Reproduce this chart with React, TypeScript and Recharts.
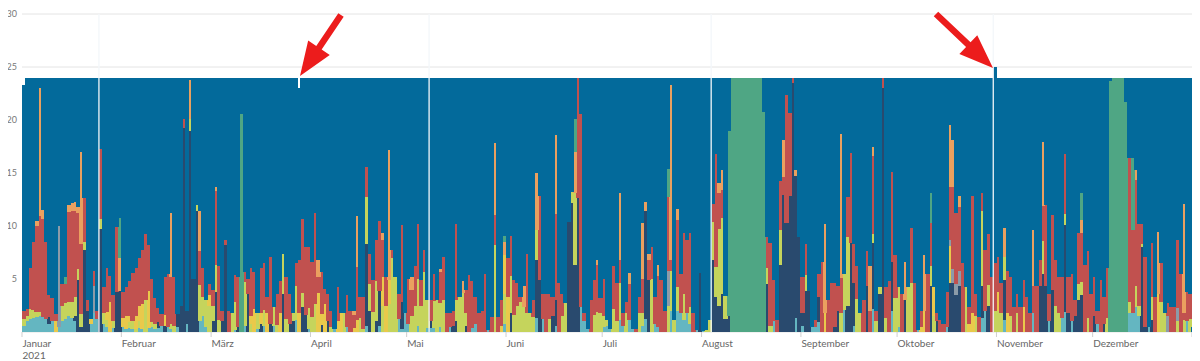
import React from 'react';
import { BarChart, Bar, XAxis, YAxis, CartesianGrid, ReferenceLine } from 'recharts';

// Stunden pro Tag je Kategorie, Reihenfolge der Stapel (unten -> oben):
// [teal, navy, lime, yellow, gray, red, orange, green] ; Rest bis zur Tageslänge = blau
const seriesKeys = ['teal', 'navy', 'lime', 'yellow', 'gray', 'red', 'orange', 'green'];
const seriesColors = ['#64b6c1', '#294a6e', '#c5d45c', '#e9c94b', '#8c9ba8', '#c1514f', '#eaa05f', '#4fa684'];
const restColor = '#036a9b';

const jan = [
  [0.6,0,0.6,0,0,0.8,0,0],[1,0,0.5,0,0,0.7,0,0],[1.2,0,1,0,0,3.8,0,0],[1.3,0,0.8,0,0,6.4,0,0],
  [1.4,0,0.5,0,0,8.1,0.5,0],[1.5,0,0.4,0,0,9,12.1,0],[1.4,0,0,0,0,9.3,0.8,0],[1.2,0,0,0,0,7.3,0,0],
  [0.8,0.6,0,0,0,2.1,0,0],[1,0,0,0,0,2.2,0,0],[0,0,0,1,0,0.7,0,0],[0.5,0,0,0,9.5,0,0,0],
  [1,0,1.5,0,0,2,0,0],[1.2,0,1.5,0,0,1.8,0,0.7],[1.5,0,1.3,0,0,8.5,0.7,0],[1.3,0,1.5,0,0,8.6,0.8,0],
  [1,0.5,1.8,0,0,8.1,0.9,0],[0,4.9,1,0,0,5.3,0.6,0],[0,0.5,1.2,0,0,6.6,8.7,0],[0,7.7,0.8,0,0,4.1,0,0],
  [0,2,0,0,0,1,0,0],[0.8,0,0,0.4,0,0,0,0],[1.8,0,0,0,2.5,1.5,0,0],[1.2,0,0,0,0,0.8,0,0],
  [0,9.7,1,0,0,6.6,0,0],[0.8,0,1,0,0,2.4,0,0],[0.5,0,0.6,0.8,0,4.1,0,0],[0,0,0,2.8,0,2.5,0,0],
  [0.4,0,0.6,0,0,2.5,0,0],[0,3.8,0,0,0,6.1,0,0],[0,3.9,0,0,0,0,3.1,3.8],
];
const feb = [
  [0.5,0,0,0.8,0,2.5,0,0],[0.3,0,0,1.2,0,2.7,0,0],[0.4,0,0.5,0.6,0,3.3,0,0],[0.3,0,0.7,0,0,4.6,0,0],
  [0,0,0.3,1.2,0,4.5,0,0],[0.4,0,0.6,1.5,0,4.5,0,0],[0.3,0,0,2.3,0,5.1,0,0],[0,0,3,0,0,6.2,0,0],
  [0.4,0,0,3.5,0,4.3,0,0],[0.5,0,0.4,0,0,4.1,0,0],[0.3,0,0.5,0,0,2.4,0,0],[0.4,0.5,0,0,0,1.4,0,0],
  [0.6,0,0,0,0,1.1,0,0],[0,0.6,0,1,0,3.6,0,0],[0.5,0,0,0,0,5,0,0],[0.3,0,0.5,0,0,4.4,6,0],
  [0,0,0.6,0,0,4.6,0,0],[0.5,1.2,0,0,0,0,0,0],[0,2.5,0,0,0,0,0,0],[0,19.2,0,0,0,0.9,0,0],
  [0.8,1.2,0,0,0,0,0,0],[0,19,1.1,0,0,0,3.7,0],[0,5,0,0,0,0,0,0],[0,11.4,0.6,0,0,0,0,0],
  [1,0,3.4,0,0,3.2,3.8,0],[1.5,0,1.8,0,0,2.7,0,0],[0.5,0,2.5,0,0,0,0,0],[0,0,2.5,1,0,1,0,0],
];
const mar = [
  [0,1,1.5,0,0,1.5,0,0],[0,3.8,2.5,0,0,7,0.4,0],[0,0,1.1,0,0,5.1,0,0],[0,1,0,0,0,1,0,0],
  [0,8.2,0,0,0,0.5,0,0],[0,0,0,0,0,2,0,0],[0,0,1.8,0,0,0,0,0],[0.2,0,2.6,0,0,2.6,0,0],
  [0,0.5,0,0,0,4.7,0,0],[0,0,0,0,0,0,0,20.6],[0.6,0,4.1,0,0,1,0,0],[0,3.6,0,0,0,1.4,0,0],
  [0,0,0.8,0.7,0,4.5,0,0],[0,0,0,2.2,0,3.5,0,0],[0.3,0,1.5,0,0,0,0,0],[0,0.8,0,1,0,4.2,0,0],
  [0.6,0,1.5,0,0,4.4,0,0],[0,0,0,1.8,0,1.5,0,0],[0,0.8,0,0,0,6.3,0,0],[0.6,0,1.8,0,0,0,0,0],
  [0,0,0.7,0,0,2.9,0,0],[0,0,0,1.8,0,3,0,0],[0,3.6,3.8,0,0,0,0,0],[0,0,1.2,0,0,4,0,0],
  [0,0.8,0,0,0,2.8,0,0],[0,1,0.8,0,0,0,0,0],[1.1,0,3.2,0,0,2.2,0,0],[0,0,0,1.8,0,5,0,0],
  [0,2.4,1.3,0,0,7,0,0],[0,1.6,0,0,0,6.4,0,0],[0.3,0,2,0,0,5.7,0,0],
];
const apr = [
  [0,0,1.4,0,0,5.2,0,0],[0,0,2.6,0,0,8.6,0,0],[0,0,0,3.7,0,1.5,1.6,0],[0,0.7,0,1,0,4,0,0],
  [0,0,0,2.6,0,1.5,0,0],[0,1,0,0,0,2.6,0,0],[0,0,0.5,0,0,1.5,0,0],[0.3,0,0,0,0,0,0,0],
  [0,0,0,1,0,3.2,0,0],[0,0,0,1.8,0,0,0,0],[0,0,1.8,0,0,0,0,0],[0.5,0,0,0,0,3,0,0],
  [0,0,0,0,0,2,0,0],[0,0,0,0.4,0,1.2,0.4,0],[0,0,0,1.1,0,5,4.8,0],[0,0,1.3,0,0,2,0,0],
  [0,0,0.3,0,0,3,0,0],[0.6,7.7,4.4,0,0,2.9,0,0],[0,2,2.5,0,0,2.9,0,0],[0,0,1.9,0,0,3,0,0],
  [0,1,3.8,0,0,3.9,0,0],[0.6,3.3,0,0,0,6.6,0,0],[0,0,2.5,2.7,0,3.5,0.6,0],[0,0,0,2.5,0,2.7,0,0],
  [0,0,2.6,2.3,0,0,12.3,0],[0,0,7,0,0,0.7,0,0],[0,0,5.2,0,0,0,0,0],[1.2,0,0,0,0,2.4,0,0],
  [0.3,2.5,0,0,0,7.3,0,0],[1.8,0,0,0,0,0,0,0],
];
const may = [
  [0.8,0,0,0,0,4.2,0,0],[0,0,1.5,0,0,2.5,1.2,0],[0,0,2.5,0,0,3.7,0,0],[0.6,0,4.4,0,0,5.2,0,0],
  [0,0,2.5,0,0,2.4,0,0],[0,0,5.7,0,0,2,0,0],[0.4,0,2.6,0,0,0,0,0],[0.4,0.6,0,0,0,2,0,0],
  [0.4,0,2.5,0,0,2.6,0,0],[0,0,3,0,0,0,0,0],[0.5,0,2.2,0,0,3,0.2,0],[0,0,3,0,0,4.1,0,0],
  [0,0,0,0,0,1.8,0,0],[0.5,0,0,0,0,1.3,0,0],[0,0.6,0,0,0,1.4,0,0],[0,1,2,0,0,7.2,0,0],
  [0,0,3.3,0,0,0,0,0],[0,0,3.7,0,0,0,1.1,0],[0,0.6,1.2,0,0,2.2,0,0],[0,0,0,0,0,5.4,0,0],
  [0.4,0,0,0,0,4.4,0,0],[0.8,0,0,0,0,2.5,0,0],[0,0,0,0,0,1.8,0,0],[0,0,0,0,0,2,0,0],
  [0,0,0,0,0,5.5,0,0],[0.2,0,0,0,0,0,0,0],[0,0,0,0,0,1.4,0,0],[0,0,8.2,0,0,2.8,6.8,0],
  [0,0,0,0,0,1.4,0,0],[0,0,0,0.6,0,2.4,0,0],[0.8,0,2.8,3.7,0,0,1.2,0.6],
];
const jun = [
  [0,0,0,3.3,0,3.7,0,0],[0,1.8,3.5,0,0,3.8,0,0],[0,0,1.6,0,0,3.3,0,0],[0,0,2.5,0,0,2.1,0,0],
  [0,0,2.8,0,0,0.5,0,0],[0,0,2.4,0,0,0,1.9,0],[0,0,1.8,0,0,5.6,0,0],[0,0,1.8,0,0,0,0,0],
  [0,0,1.4,0,0,1.6,0,0],[1.3,5.5,2.8,0,0,0,5.4,0],[0,4.9,0,0,0,7.9,0,0],[1.2,0,0,0,0,2.4,0,0],
  [0,0,0,0,0,3.6,0,0],[0,0,1.2,0,0,2.4,0,0],[0,1.5,0,0,0,1.8,0,0],[0.6,2.4,0,0,0,8.1,7.5,0],
  [0,0,0,0,0,4.6,0,0],[0,0,1.5,0,0,2.1,0,0],[0,0,2.7,0,0,0,0,0],[0,10.4,0,0,0,0,0,0],
  [0,12.2,1,0,0,0,0,0],[0,6.3,6.8,0,0,0,3.9,3.1],[0,12.6,0,0,0,11.4,0,0],[2.4,0,0,0,0,18.2,0,0],
  [1,0,0,0,0,0.8,0,0],[0.3,0,0,0,0,0,0,0],[0,0,0,0,0,3,0,0],[0,0,1.6,0,0,3.3,0,0],
  [0,0,1.9,0,0,4.4,0.5,0],[0,0,1.8,0,0,1.4,0,0],
];
const jul = [
  [0.5,0,1,0,0,3.5,0,0],[0.6,0,0.5,0,0,0,0,0],[0.3,0,0,0,0,0,0,0],[0,0,2.2,0,0,4,0,0],
  [0,0,1,0,0,3.6,0,0],[1.1,0,3.5,0,0,2.2,6.3,0],[0.6,0,0,0,0,1.2,0,0],[0,0,1.8,0,0,1,0,0],
  [1.1,0,0,0,0,3.4,1.1,0],[0.3,0,0,0,0,0,0,0],[0,0,0,0,0,0.3,0,0],[0,0,1.8,0,0,1.5,0,0],
  [0.6,0,1.2,0,0,3.2,5.3,0],[1.2,10.2,0,0,0,0,0.9,0],[0,4.9,0,0,0,1.9,0.6,0],[0,0,5,0,0,3,0,0],
  [0.8,0,0,0,0,2.5,0,0],[0.5,0,0,0,0,4.8,1,0],[0,0,0,0,0,4.9,0,0],[0,0,0,0,0,2,0,0],
  [0,0,2.5,0,3.3,6.9,0,2.7],[2,0,3.8,0,0,1,16.5,0],[0,0,1.1,0,0,0,0,0],[2,0,2.2,0,0,6.4,1,0],
  [1.8,0,0,0,0,3.7,0,0],[1.1,0,2.5,0,0,5.7,0,0],[1.8,0,0,0,0,6.9,0,0],[0.8,0,1.6,0,0,6.9,0,0],
  [0,0,0,0,0,1.8,0,0],[0.2,0,0,0,0,0,0,0],[0,5.6,0,0,0,0,0,0],
];
const aug = [
  [0.1,0,0,0,0,0,0,0],[0,0,0.2,0,0,0,0,0],[0,0,1.1,0,0,0,0,0],[0,6.8,3.6,0,0,1.7,0,0],
  [0,3.3,2.8,0,0,10.7,0,0],[0,2.5,7.2,0,0,3.4,1,0],[0,3.6,7.2,0,0,2.6,1.9,0],[0,1.2,2.2,0,0,0,0,0],
  [0,1.5,0,0,0,0,0,17.5],
  [0,0,0,0,0,0,0,24],[0,0,0,0,0,0,0,24],[0,0,0,0,0,0,0,24],[0,0,0,0,0,0,0,24],[0,0,0,0,0,0,0,24],
  [0,0,0,0,0,0,0,24],[0,0,0,0,0,0,0,24],[0,0,0,0,0,0,0,24],[0,0,0,0,0,0,0,24],[0,0,0,0,0,0,0,24],
  [0,0,0,0,0,0,0,20.8],
  [0,4.5,1.5,0,0,3,0,0],[0,0,0.6,0,0,7.8,0,0],[1,0,0,0,0,3.9,0,0],[0,0,0,0,0,1.1,0,0],
  [0,6.3,3.3,0,0,4.6,0,0],[0,12.9,0,0,0,1.7,3.5,0],[0,10.3,0,0,0,12.1,0,0],[0,12.8,0,0,0,7.9,0,0],
  [0,23.5,0,0,0,0.5,0,0],[1.3,13.4,0,0,0,0,0.6,0],[0,9,0,0,0,0,0,0],
];
const sep = [
  [0.6,1.2,0,0,0,3.4,0,0],[0,3.9,1.5,0,0,2.9,0,0],[0,3.9,0,0,0,0,0,0],[0.5,0,0,0,0,0,0,0],
  [0.5,0,0,0,0,0.6,0,0],[0.9,2.4,0,0,0,2.2,0,0],[0,0,0,0,0,6.6,0,0],[0,0,0,1.8,0,0,8.4,0],
  [0,0,0,0,0,3,0,0],[0,0,0,0,0,4.6,0,0],[0,0.5,0,0,0,4.1,0,0],[0,2,0,0,0,2.3,0,0],
  [0,0,1.8,0,0,3.3,13.6,0],[2.1,0,3.4,0,0,0,0,0],[0,2.5,6.5,0,0,3.7,0,0],[0,8.4,0,0,0,8.5,0,0],
  [0.6,4,0,0,0,3.7,0,0],[0,0,3.1,0,0,3.1,0,0],[0,0,1.8,0,0,0,0,0],[0,0,0,0,0,3,0,0],
  [0,4.3,0,0,0,3.3,0,0],[0,0,0,0,0,2,4.2,0],[2.2,6.2,0.8,0,0,7.4,0.9,0],[0,0,1,0,0,1,0,0],
  [0,3.6,0.6,0,0,0,0,0],[0,23,0,0,0,1,0,0],[0,0,1.3,0,0,2.9,0,0],[0,0,0,0,0,4.8,0,0],
  [2,4.6,0,0,0,8.5,0,0],[0,0,3.2,0,0,4.1,0,0],
];
const oct = [
  [0.5,0,3.7,0,0,0,0,0],[0,0,0,0,0,3.6,0,0],[0,3,0,0,0,0,3.6,0],[0,0,4.2,0,0,0,0,0],
  [0,0,4.6,0,0,5.2,0,0],[0,0,0,0,0,4.6,0,0],[0.2,0,0,0,0,0,0,0],[0,0,0,0.5,0,1.5,0,0],
  [0,0,0,2,0,0,5.3,0],[0,0,0,0,0,5.5,0,0],[0,4.3,1.9,0,0,4.1,0,2.8],[0,0,1.5,2.7,0,0,0,0],
  [0,1,0,0,0,0.8,0,0],[0,0,0,0,0,1.1,0,0],[0,0,0,0,0,0.8,0,0],[0.5,0,0,0,0,3.3,0,0],
  [0,4.6,0,3.5,0.6,5,5.8,0],[0,4.6,0,0,1.3,7.8,4.4,0],[0,3.5,0,0,1,6.7,0,0],[0,4.3,0,0,1.5,6,1,0],
  [0,0,0,0,0,6.5,0,0],[0,0,4.2,0,0,0,0,0],[0,0,0,0.8,0,1.6,0,0],[0,0,0,1.8,0,11,0,0],
  [0,0,1.5,0,0,2.1,0,0],[0,0,0,0,0,1.4,0,0],[1.3,3,7.1,0,0,1.7,0,0],[2,0,0,0,0,5.7,0,0],
  [0,2.5,1.9,0,0,4.8,0,0],[0,0,0,0,0,5.2,0,0],[0,0,2,0,0,4.5,0,0],
];
const nov = [
  [0,0,2,1.8,0,3.3,0,0],[0,0,1.8,0,0,2.8,0,0],[1.1,3.8,2.2,0,0,0,2.7,0],[0,0,0,1.8,0,4,0,0],
  [0,0,1.5,0,0,3.7,0,0],[0,0,0,0,0,2.4,0,0],[0,0,1.8,0,0,1.8,0,0],[0,0,0,0,0,2.4,0,0],
  [0,0,0,2.4,0,2.5,0,0],[0,0,0,0,0,3.3,0,0],[0,0,0,0,0,1.8,0,0],[1.8,0,0,0,0,2.5,5.3,0],
  [0,0,0,0,0,4.3,0,0],[0,4.3,0,0,0,2.5,0,0],[0,5.5,3.1,0,0,3.3,6,0],[0,4.3,0,0,0,7.7,0,0],
  [1,0,0,0,0,2.6,0,0],[0,4,0,0,0,7,0,0],[0,0,2.5,0,0,4.3,0,0],[0,0,1.8,0,0,3.4,0,0],
  [1.3,0,0,0,0,3.9,0,0],[1.9,8.2,1,0,0,5.7,0,0],[0,1.8,0,0,0,3.4,0,0],[1,0,0,0,0,4.5,0,0],
  [0,1.5,0,0,0,1.5,0,0],[0,3,1.5,0,0,4.8,0,0],[0,3.5,1.2,0,0,4.6,1.3,2.5],[0,0,0,0,0,6.3,0,0],
  [0,0,1.3,0,0,6.3,0,0],[0,0,0,0,0,3.6,0,0],
];
const dec = [
  [0,1.5,0,0,0,3.7,0,0],[0.8,0,0,0,0,1.2,0,0],[0,0,0,0,0,4.9,0,0],[0,0.8,0,0,0,2.5,0,0],
  [0,0,1.3,0,0,4.7,0,0],
  [0,0,0,0,0,0,0,23.7],[0,0,0,0,0,0,0,24],[0,0,0,0,0,0,0,24],[0,0,0,0,0,0,0,24],[0,0,0,0,0,0,0,24],
  [0,0,0,0,0,0,0,21.7],
  [1.8,0,1,0,0,13.6,0,0],[1.8,0,0,0,0,7.8,0,6.8],[2.4,0,1.9,0,0,10,1,0],[1.5,0,1,0,0,7.7,0,0],
  [0,8,0.3,0,0,1.9,0,0],[0,0.5,0,0,0,6.6,0,0],[0.5,0,0,0,0,0,0,0],[0,1.1,2.2,0,0,5.1,0,0],
  [0,0,0,0,0,3.3,0,0],[0,0,0,3.6,0,0,5.8,0],[0,0,2.8,0,0,3.7,0,0],[0,0,1.8,0,0,0,0,0],
  [0,0,0,0,1.5,1.2,0,0],[0,0,0,0,0,2.4,0,0],[0,0,0,0,0,2.4,0,0],[0,0,1,0,1.3,6.4,0,0],
  [0,0,0,0,0,5.5,0,0],[0,0,1.1,0,0,0.7,10.3,0],[1,0,0,0,0,2.8,0,0],[0,0,1.2,0,0,2.4,0,0],
];
const jan2022 = [[0,0,0,0,0,0,0,0]];

// Tage mit abweichender Länge (Zeitumstellung, angeschnittene Tage)
const dayLengths: [number, number][] = [[0, 23.3], [86, 23], [303, 25], [365, 0.5]];

const monthNames = ['Januar', 'Februar', 'März', 'April', 'Mai', 'Juni', 'Juli', 'August', 'September', 'Oktober', 'November', 'Dezember'];
const monthStarts = [0, 31, 59, 90, 120, 151, 181, 212, 243, 273, 304, 334];
const yTicks = [5, 10, 15, 20, 25, 30];
const gapDays = [24, 127, 215, 303];

const allDays = [jan, feb, mar, apr, may, jun, jul, aug, sep, oct, nov, dec, jan2022].flat();
const data = allDays.map((vals, i) => {
  const row: any = { day: i };
  seriesKeys.forEach((k, j) => { row[k] = vals[j]; });
  const len = dayLengths.find((d) => d[0] === i)?.[1] ?? 24;
  const used = vals.reduce((a, b) => a + b, 0);
  row.rest = Math.max(0, +(len - used).toFixed(2));
  return row;
});

const BAND = 1173.2 / 366;

// Balken leicht überlappend und ohne Kantenglättung zeichnen, damit keine hellen Fugen entstehen
function Segment(props: any) {
  const { x, y, width, height, fill } = props;
  if (!height || height <= 0) return null;
  const x0 = Math.floor(x);
  const x1 = Math.ceil(x + width);
  return <rect x={x0} y={y} width={x1 - x0} height={height} fill={fill} shapeRendering="crispEdges" />;
}

function MonthTick({ x, y, payload }: any) {
  const idx = monthStarts.indexOf(payload.value);
  const left = x - BAND / 2;
  return (
    <g>
      <line x1={left} x2={left} y1={y} y2={y + 5} stroke="#cfcfcf" />
      {idx >= 0 && (
        <text x={left + 0.5} y={y + 14.5} fontSize={10} fill="#666" fontFamily="Lato">{monthNames[idx]}</text>
      )}
      {payload.value === 0 && (
        <text x={left + 0.5} y={y + 26.5} fontSize={10} fill="#666" fontFamily="Lato">2021</text>
      )}
    </g>
  );
}

function arrowPoints(tail: number[], tip: number[], shaft = 6.5, headLen = 34, headHalf = 13) {
  const dx = tip[0] - tail[0], dy = tip[1] - tail[1];
  const L = Math.hypot(dx, dy);
  const ux = dx / L, uy = dy / L, px = -uy, py = ux;
  const bx = tip[0] - ux * headLen, by = tip[1] - uy * headLen;
  const s = shaft / 2;
  const pts = [
    [tail[0] + px * s, tail[1] + py * s], [bx + px * s, by + py * s], [bx + px * headHalf, by + py * headHalf],
    tip, [bx - px * headHalf, by - py * headHalf], [bx - px * s, by - py * s], [tail[0] - px * s, tail[1] - py * s],
  ];
  return pts.map((p) => p.join(',')).join(' ');
}

export default function App() {
  return (
    <div style={{ position: 'relative', width: 1192, height: 353 }}>
      <BarChart width={1192} height={353} data={data} margin={{ top: 6, right: 4.8, left: 0, bottom: 0 }}
        barCategoryGap={0} barGap={0}>
        <CartesianGrid vertical={false} stroke="#e4e4e4" />
        <XAxis dataKey="day" ticks={[...monthStarts, 365]} interval={0} height={29} axisLine={false}
          tickLine={false} tickSize={0} tickMargin={0} tick={(p: any) => <MonthTick {...p} />} />
        <YAxis domain={[0, 30]} ticks={yTicks} width={14} axisLine={false} tickLine={false} tickSize={0}
          tickMargin={5} tick={{ fontSize: 9, fill: '#777', fontFamily: 'Lato' }} />
        {seriesKeys.map((k, j) => (
          <Bar key={k} dataKey={k} stackId="a" fill={seriesColors[j]} barSize={3.2}
            shape={(p: any) => <Segment {...p} />} isAnimationActive={false} />
        ))}
        <Bar dataKey="rest" stackId="a" fill={restColor} barSize={3.2}
          shape={(p: any) => <Segment {...p} />} isAnimationActive={false} />
        {gapDays.map((d) => (
          <ReferenceLine key={d} x={d} position="start" stroke="#f3f7fa" strokeWidth={1.3} />
        ))}
      </BarChart>
      <svg width={1200} height={361} style={{ position: 'absolute', left: -8, top: -8, pointerEvents: 'none' }}>
        <polygon points={arrowPoints([341, 15], [300, 76])} fill="#ec1c1c" />
        <polygon points={arrowPoints([936, 14], [993, 68])} fill="#ec1c1c" />
      </svg>
    </div>
  );
}
